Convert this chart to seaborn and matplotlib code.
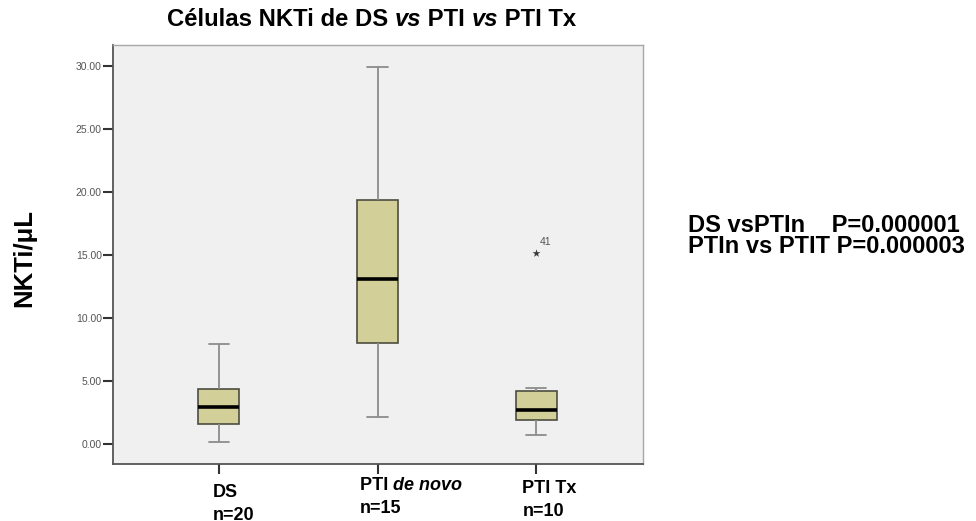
import numpy as np
import pandas as pd
import matplotlib
matplotlib.use("Agg")
import matplotlib.pyplot as plt
import seaborn as sns

# Groups and sample sizes
groups = ["DS", "PTI de novo", "PTI Tx"]
group_n = [20, 15, 10]

# Five-number summaries per group: lower whisker, Q1, median, Q3, upper whisker
ds_summary = [0.13, 1.56, 2.96, 4.36, 7.93]
pti_novo_summary = [2.17, 7.98, 13.11, 19.37, 29.90]
pti_tx_summary = [0.69, 1.88, 2.70, 4.18, 4.41]

# Extreme value flagged in the PTI Tx group
outlier_group = ["PTI Tx"]
outlier_values = [15.12]
outlier_ids = ["41"]

y_ticks = [0, 5, 10, 15, 20, 25, 30]
pvalue_lines = ["DS vsPTIn    P=0.000001", "PTIn vs PTIT P=0.000003"]

sns.set_style("white")
plt.rcParams["font.family"] = ["Liberation Sans", "DejaVu Sans"]

df = pd.DataFrame({
    "grupo": np.repeat(groups, 5),
    "nkti": ds_summary + pti_novo_summary + pti_tx_summary,
})

W, H = 976, 521
fig = plt.figure(figsize=(W / 100, H / 100), dpi=100)
ax = fig.add_axes([113 / W, 1 - 464 / H, (643 - 113) / W, (464 - 45) / H])
ax.set_facecolor("#f0f0f0")

fill = "#d3cf98"
whisk = "#8c8c8c"
sns.boxplot(
    data=df, x="grupo", y="nkti", order=groups, whis=(0, 100),
    width=0.256, color=fill, saturation=1, showfliers=False,
    linecolor="#4d4d40", linewidth=1.2,
    medianprops=dict(color="black", linewidth=2.6),
    whiskerprops=dict(color=whisk, linewidth=1.3),
    capprops=dict(color=whisk, linewidth=1.3),
    ax=ax,
)

sns.stripplot(
    x=outlier_group, y=outlier_values, order=groups, jitter=False,
    marker="*", size=6, color="#3a3a3a", linewidth=0, ax=ax,
)
for g, v, lab in zip(outlier_group, outlier_values, outlier_ids):
    ax.annotate(lab, (groups.index(g), v), xytext=(3, 6),
                textcoords="offset pixels", fontsize=7.5, color="#555555",
                ha="left", va="bottom")

ax.set_xlim(-0.666, 2.672)
ax.set_ylim(-1.59, 31.64)
ax.set_yticks(y_ticks)
ax.set_yticklabels([f"{t:.2f}" for t in y_ticks])
ax.set_xticks(range(len(groups)))
ax.set_xticklabels([])
ax.set_xlabel("")
ax.set_ylabel("")
ax.tick_params(axis="y", which="both", left=True, length=7, width=1.5,
               color="#333333", labelsize=7.5, labelcolor="#555555", pad=1)
ax.tick_params(axis="x", which="both", bottom=True, length=7, width=1.5,
               color="#333333")
for side in ["left", "bottom"]:
    ax.spines[side].set_color("#555555")
    ax.spines[side].set_linewidth(1.3)
for side in ["top", "right"]:
    ax.spines[side].set_color("#a8a8a8")
    ax.spines[side].set_linewidth(1.0)


def chained(pieces, x, y, size, transform):
    """Draw text pieces one after another on a shared baseline."""
    text, style = pieces[0]
    prev = fig.text(x, y, text, transform=transform, ha="left",
                    va="baseline", fontsize=size, fontweight="bold",
                    style=style, color="black")
    for text, style in pieces[1:]:
        prev = ax.annotate(text, xy=(1, 0), xycoords=prev, ha="left",
                           va="bottom", fontsize=size, fontweight="bold",
                           style=style, color="black", annotation_clip=False)
    return prev


# Title with italic "vs"
chained([("Células NKTi de DS ", "normal"), ("vs", "italic"),
         (" PTI ", "normal"), ("vs", "italic"), (" PTI Tx", "normal")],
        167 / W, 1 - 26 / H, 17.2, fig.transFigure)

# Group labels under the ticks
label_lines = [
    [("DS", "normal")],
    [("PTI ", "normal"), ("de novo", "italic")],
    [("PTI Tx", "normal")],
]
label_dx = [-6, -18, -14]
label_baseline = [497, 490, 493]
line_gap = 23
for i, (pieces, dx, base, n) in enumerate(zip(label_lines, label_dx,
                                              label_baseline, group_n)):
    x_px = ax.transData.transform((i, 0))[0] + dx
    chained(pieces, x_px / W, 1 - base / H, 13, fig.transFigure)
    fig.text(x_px / W, 1 - (base + line_gap) / H, f"n={n}", ha="left",
             va="baseline", fontsize=13, fontweight="bold", color="black")

# Y axis label
fig.text(24 / W, 1 - 258 / H, "NKTi/μL", rotation=90, ha="center",
         va="center", fontsize=18.5, fontweight="bold", color="black")

# P-values
for k, line in enumerate(pvalue_lines):
    fig.text(688 / W, 1 - (232 + 21 * k) / H, line, ha="left",
             va="baseline", fontsize=17, fontweight="bold", color="black")

fig.savefig("out.png", dpi=100)
